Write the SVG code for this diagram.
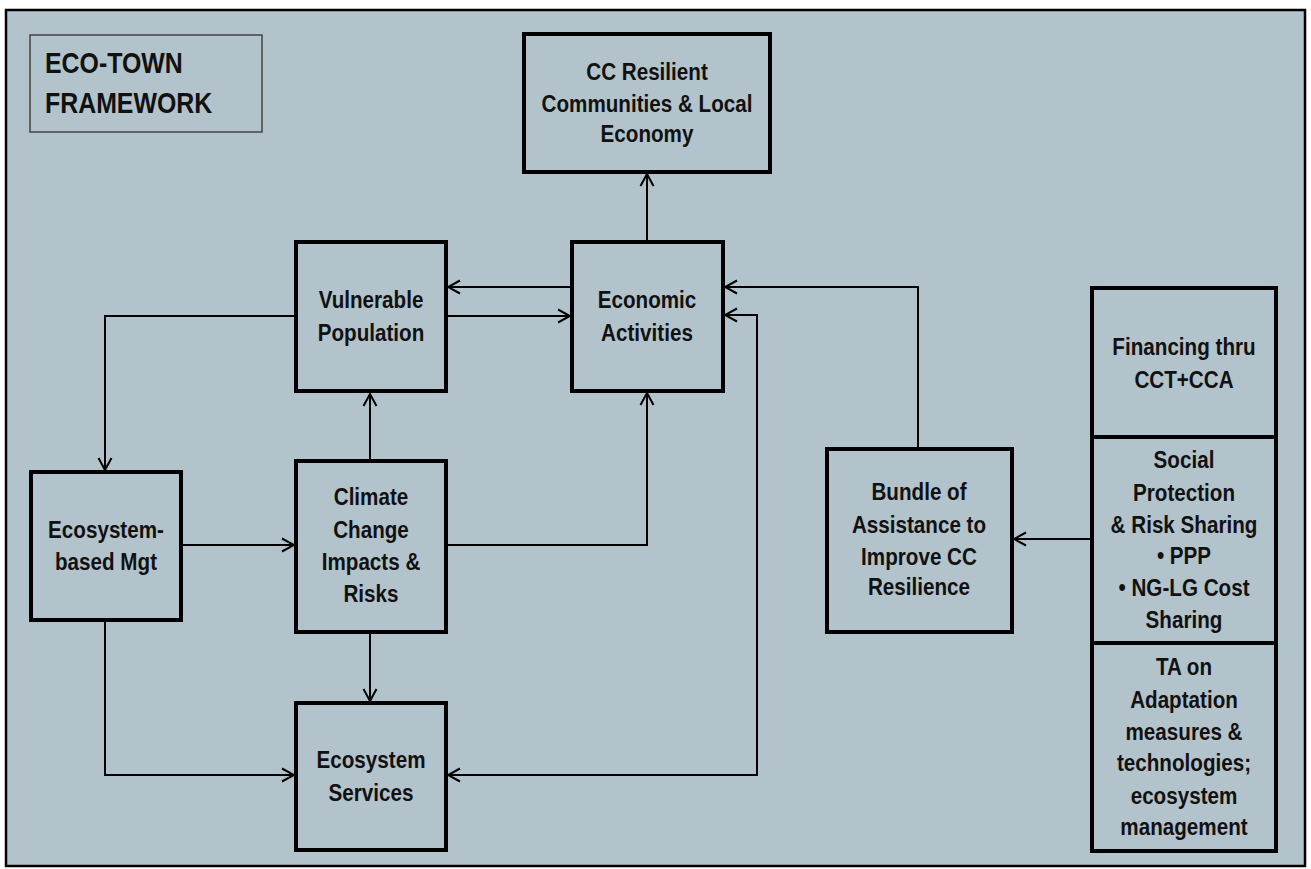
<svg xmlns="http://www.w3.org/2000/svg" width="1311" height="869" viewBox="0 0 1311 869">
<defs>
<marker id="a" viewBox="0 0 14 16" refX="13" refY="8" markerWidth="14" markerHeight="16" orient="auto-start-reverse" markerUnits="userSpaceOnUse">
<path d="M1,1.5 L13,8 L1,14.5" fill="none" stroke="#000" stroke-width="2"/>
</marker>
</defs>
<style>
.box{fill:#b2c3cb;stroke:#000;stroke-width:4}
.t{font-family:"Liberation Sans",Arial,sans-serif;font-weight:bold;font-size:24px;fill:#111;text-anchor:middle}
.ttl{font-family:"Liberation Sans",Arial,sans-serif;font-weight:bold;font-size:30px;fill:#111}
.c{fill:none;stroke:#000;stroke-width:2;marker-end:url(#a)}
</style>
<rect width="1311" height="869" fill="#fff"/>
<rect x="6" y="10" width="1299" height="856" fill="#b2c3cb" stroke="#000" stroke-width="2.5"/>
<g id="title">
<rect x="30" y="35" width="232" height="97" fill="none" stroke="#444" stroke-width="1.5"/>
<text class="ttl" transform="matrix(0.83 0 0 1 45 73)">ECO-TOWN</text>
<text class="ttl" transform="matrix(0.83 0 0 1 45 113)">FRAMEWORK</text>
</g>
<g id="connectors">
<path class="c" d="M647,241 V174"/>
<path class="c" d="M572,287 H448"/>
<path class="c" d="M446,316 H570"/>
<path class="c" d="M295,316 H105 V470"/>
<path class="c" d="M370,460 V394"/>
<path class="c" d="M181,545 H294"/>
<path class="c" d="M446,545 H647 V393"/>
<path class="c" d="M370,633 V701"/>
<path class="c" d="M105,621 V775 H294"/>
<path class="c" d="M448,775 H757 V315 H725" style="marker-start:url(#a)"/>
<path class="c" d="M918,448 V287 H725"/>
<path class="c" d="M1092,539 H1014"/>
</g>
<g id="cc-resilient">
<rect class="box" x="524" y="34" width="246" height="138"/>
<text class="t" transform="matrix(0.86 0 0 1 647 80)">CC Resilient</text>
<text class="t" transform="matrix(0.86 0 0 1 647 112)">Communities &amp; Local</text>
<text class="t" transform="matrix(0.86 0 0 1 647 142)">Economy</text>
</g>
<g id="economic">
<rect class="box" x="572" y="242" width="151" height="149"/>
<text class="t" transform="matrix(0.86 0 0 1 647 308)">Economic</text>
<text class="t" transform="matrix(0.86 0 0 1 647 341)">Activities</text>
</g>
<g id="vulnerable">
<rect class="box" x="296" y="242" width="150" height="149"/>
<text class="t" transform="matrix(0.86 0 0 1 371 308)">Vulnerable</text>
<text class="t" transform="matrix(0.86 0 0 1 371 341)">Population</text>
</g>
<g id="ecobased">
<rect class="box" x="31" y="472" width="150" height="148"/>
<text class="t" transform="matrix(0.86 0 0 1 106 538)">Ecosystem-</text>
<text class="t" transform="matrix(0.86 0 0 1 106 570)">based Mgt</text>
</g>
<g id="climate">
<rect class="box" x="296" y="461" width="150" height="171"/>
<text class="t" transform="matrix(0.86 0 0 1 371 505)">Climate</text>
<text class="t" transform="matrix(0.86 0 0 1 371 538)">Change</text>
<text class="t" transform="matrix(0.86 0 0 1 371 570)">Impacts &amp;</text>
<text class="t" transform="matrix(0.86 0 0 1 371 602)">Risks</text>
</g>
<g id="eco-services">
<rect class="box" x="296" y="703" width="150" height="147"/>
<text class="t" transform="matrix(0.86 0 0 1 371 768)">Ecosystem</text>
<text class="t" transform="matrix(0.86 0 0 1 371 801)">Services</text>
</g>
<g id="bundle">
<rect class="box" x="827" y="449" width="185" height="183"/>
<text class="t" transform="matrix(0.86 0 0 1 919 500)">Bundle of</text>
<text class="t" transform="matrix(0.86 0 0 1 919 533)">Assistance to</text>
<text class="t" transform="matrix(0.86 0 0 1 919 565)">Improve CC</text>
<text class="t" transform="matrix(0.86 0 0 1 919 595)">Resilience</text>
</g>
<g id="financing">
<rect class="box" x="1092" y="288" width="184" height="149"/>
<text class="t" transform="matrix(0.86 0 0 1 1184 355)">Financing thru</text>
<text class="t" transform="matrix(0.86 0 0 1 1184 388)">CCT+CCA</text>
</g>
<g id="social">
<rect class="box" x="1092" y="437" width="184" height="206"/>
<text class="t" transform="matrix(0.86 0 0 1 1184 468)">Social</text>
<text class="t" transform="matrix(0.86 0 0 1 1184 501)">Protection</text>
<text class="t" transform="matrix(0.86 0 0 1 1184 533)">&amp; Risk Sharing</text>
<text class="t" transform="matrix(0.86 0 0 1 1184 564)">• PPP</text>
<text class="t" transform="matrix(0.86 0 0 1 1184 596)">• NG-LG Cost</text>
<text class="t" transform="matrix(0.86 0 0 1 1184 628)">Sharing</text>
</g>
<g id="ta">
<rect class="box" x="1092" y="643" width="184" height="208"/>
<text class="t" transform="matrix(0.86 0 0 1 1184 675)">TA on</text>
<text class="t" transform="matrix(0.86 0 0 1 1184 708)">Adaptation</text>
<text class="t" transform="matrix(0.86 0 0 1 1184 740)">measures &amp;</text>
<text class="t" transform="matrix(0.86 0 0 1 1184 771)">technologies;</text>
<text class="t" transform="matrix(0.86 0 0 1 1184 804)">ecosystem</text>
<text class="t" transform="matrix(0.86 0 0 1 1184 835)">management</text>
</g>
</svg>
